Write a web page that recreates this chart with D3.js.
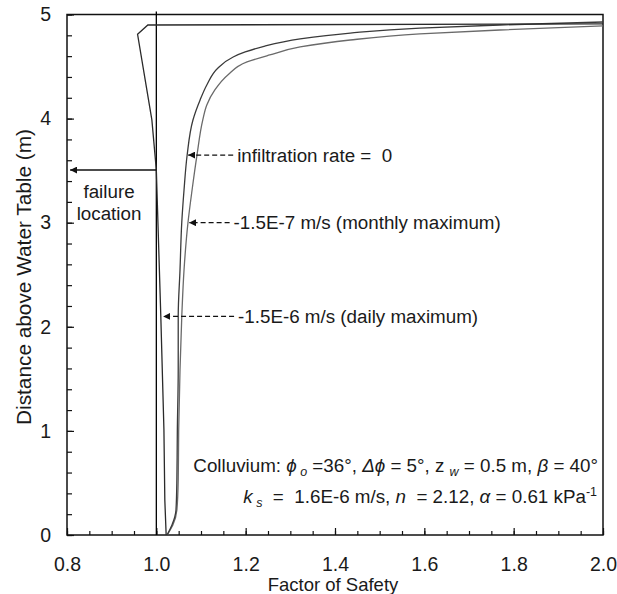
<!DOCTYPE html>
<html>
<head>
<meta charset="utf-8">
<script src="https://cdn.jsdelivr.net/npm/d3@7"></script>
<style>
  body { margin: 0; background: #fff; }
  svg text { font-family: "Liberation Sans", Arial, sans-serif; fill: #1a1a1a; white-space: pre; }
</style>
</head>
<body>
<svg id="chart" width="617" height="594"></svg>
<script>
// --- data (factor of safety vs. height above water table, m) ---
const fsTicks = [0.8, 1.0, 1.2, 1.4, 1.6, 1.8, 2.0];
const heightTicks = [0, 1, 2, 3, 4, 5];

// infiltration rate = 0
const noInfilFS = [1.024, 1.035, 1.044, 1.046, 1.047, 1.049, 1.049, 1.053, 1.057, 1.062, 1.069, 1.082, 1.098, 1.113, 1.138, 1.172, 1.199, 1.243, 1.322, 1.434, 1.590, 1.769, 2.0];
const noInfilH  = [0, 0.096, 0.240, 0.528, 0.999, 1.585, 2.104, 2.546, 3.007, 3.314, 3.650, 3.987, 4.179, 4.323, 4.486, 4.592, 4.640, 4.697, 4.765, 4.822, 4.870, 4.899, 4.928];

// -1.5E-7 m/s (monthly maximum)
const monthlyFS = [1.024, 1.037, 1.046, 1.049, 1.050, 1.053, 1.057, 1.062, 1.071, 1.080, 1.091, 1.104, 1.113, 1.131, 1.160, 1.203, 1.254, 1.322, 1.434, 1.590, 1.769, 2.0];
const monthlyH  = [0, 0.096, 0.240, 0.528, 0.999, 1.585, 2.104, 2.546, 3.007, 3.314, 3.650, 3.987, 4.131, 4.275, 4.419, 4.544, 4.611, 4.688, 4.755, 4.813, 4.851, 4.890];

// -1.5E-6 m/s (daily maximum)
const dailyFS = [1.022, 1.019, 1.017, 1.010, 1.000, 0.990, 0.958, 0.981, 2.0];
const dailyH  = [0, 0.336, 1.009, 2.104, 3.506, 3.987, 4.810, 4.899, 4.909];

const refFS = 1.0;
const failureH = 3.506;

const annotations = [
  {label: "infiltration rate =  0", h: 3.65, tipFS: 1.069, textFS: 1.181},
  {label: "-1.5E-7 m/s (monthly maximum)", h: 3.0, tipFS: 1.071, textFS: 1.173},
  {label: "-1.5E-6 m/s (daily maximum)", h: 2.1, tipFS: 1.013, textFS: 1.183}
];

// --- layout ---
const svg = d3.select("#chart");
const plotL = 67, plotR = 603, plotT = 14.5, plotB = 535;

const x = d3.scaleLinear().domain([0.8, 2.0]).range([plotL, plotR]);
const y = d3.scaleLinear().domain([0, 5]).range([plotB, plotT]);

const defs = svg.append("defs");
defs.append("clipPath").attr("id", "plot-clip")
  .append("rect")
    .attr("x", plotL).attr("y", plotT)
    .attr("width", plotR - plotL).attr("height", plotB - plotT);

defs.append("marker")
    .attr("id", "head")
    .attr("viewBox", "0 0 10 10")
    .attr("refX", 10).attr("refY", 5)
    .attr("markerWidth", 7).attr("markerHeight", 7)
    .attr("markerUnits", "userSpaceOnUse")
    .attr("orient", "auto")
  .append("path")
    .attr("d", "M0,0 L10,5 L0,10 z")
    .attr("fill", "#111");

// minor ticks
const xMinor = d3.range(0.8, 2.0001, 0.05).map(v => +v.toFixed(2));
const yMinor = d3.range(0, 5.0001, 0.2).map(v => +v.toFixed(1));

svg.append("g")
    .attr("transform", `translate(0,${plotB})`)
    .call(d3.axisBottom(x).tickValues(xMinor).tickSize(-4).tickFormat(""))
    .call(g => g.select(".domain").remove());

svg.append("g")
    .attr("transform", `translate(0,${plotB})`)
    .call(d3.axisBottom(x).tickValues(fsTicks).tickSize(-7).tickPadding(22).tickFormat(d3.format(".1f")))
    .call(g => g.select(".domain").remove())
    .call(g => g.selectAll("text").attr("font-size", 19.5).attr("fill", "#1a1a1a"));

svg.append("g")
    .attr("transform", `translate(${plotL},0)`)
    .call(d3.axisLeft(y).tickValues(yMinor).tickSize(-5).tickFormat(""))
    .call(g => g.select(".domain").remove());

svg.append("g")
    .attr("transform", `translate(${plotL},0)`)
    .call(d3.axisLeft(y).tickValues(heightTicks).tickSize(-7).tickPadding(16).tickFormat(d3.format("d")))
    .call(g => g.select(".domain").remove())
    .call(g => g.selectAll("text").attr("font-size", 19.5).attr("fill", "#1a1a1a"));

svg.selectAll(".tick line").attr("stroke", "#111").attr("stroke-width", 1.2);

// frame
svg.append("rect")
    .attr("x", plotL).attr("y", plotT)
    .attr("width", plotR - plotL).attr("height", plotB - plotT)
    .attr("fill", "none").attr("stroke", "#111").attr("stroke-width", 1.5);

// FS = 1 reference line
svg.append("line")
    .attr("x1", x(refFS)).attr("x2", x(refFS))
    .attr("y1", y(5.03)).attr("y2", y(0))
    .attr("stroke", "#000").attr("stroke-width", 1.3);

// curves
const zip = (fs, h) => fs.map((v, i) => [v, h[i]]);
const smooth = d3.line().x(d => x(d[0])).y(d => y(d[1])).curve(d3.curveMonotoneY);
const straight = d3.line().x(d => x(d[0])).y(d => y(d[1]));

const curves = svg.append("g").attr("clip-path", "url(#plot-clip)").attr("fill", "none");
curves.append("path").attr("d", smooth(zip(monthlyFS, monthlyH).reverse()))
    .attr("stroke", "#6a6a6a").attr("stroke-width", 1.3);
curves.append("path").attr("d", smooth(zip(noInfilFS, noInfilH).reverse()))
    .attr("stroke", "#3a3a3a").attr("stroke-width", 1.3);
curves.append("path").attr("d", straight(zip(dailyFS, dailyH)))
    .attr("stroke", "#2a2a2a").attr("stroke-width", 1.3);

// annotation arrows and labels
const notes = svg.append("g");
annotations.forEach(a => {
  notes.append("line")
      .attr("x1", x(a.textFS) - 4).attr("x2", x(a.tipFS) + 1)
      .attr("y1", y(a.h)).attr("y2", y(a.h))
      .attr("stroke", "#111").attr("stroke-width", 1.2)
      .attr("stroke-dasharray", "5,3")
      .attr("marker-end", "url(#head)");
  notes.append("text")
      .attr("x", x(a.textFS)).attr("y", y(a.h))
      .attr("dy", "0.35em")
      .attr("font-size", 18.8)
      .text(a.label);
});

// failure location arrow
notes.append("line")
    .attr("x1", x(refFS)).attr("x2", x(0.807))
    .attr("y1", y(failureH)).attr("y2", y(failureH))
    .attr("stroke", "#111").attr("stroke-width", 1.5)
    .attr("marker-end", "url(#head)");
notes.append("text")
    .attr("x", 109).attr("y", y(failureH) + 28)
    .attr("text-anchor", "middle").attr("font-size", 18.8)
    .text("failure");
notes.append("text")
    .attr("x", 109).attr("y", y(failureH) + 50)
    .attr("text-anchor", "middle").attr("font-size", 18.8)
    .text("location");

// soil parameters
const p1 = svg.append("text").attr("x", 598).attr("y", 472)
    .attr("text-anchor", "end").attr("font-size", 18.8);
p1.append("tspan").text("Colluvium: ");
p1.append("tspan").attr("font-style", "italic").text("\u03d5");
p1.append("tspan").attr("font-style", "italic").attr("font-size", 12.5).attr("dy", 4).text(" o");
p1.append("tspan").attr("dy", -4).text(" =36\u00b0, ");
p1.append("tspan").attr("font-style", "italic").text("\u0394\u03d5");
p1.append("tspan").text(" = 5\u00b0, z ");
p1.append("tspan").attr("font-style", "italic").attr("font-size", 12.5).attr("dy", 4).text("w");
p1.append("tspan").attr("dy", -4).text(" = 0.5 m, ");
p1.append("tspan").attr("font-style", "italic").text("\u03b2");
p1.append("tspan").text(" = 40\u00b0");

const p2 = svg.append("text").attr("x", 597).attr("y", 503)
    .attr("text-anchor", "end").attr("font-size", 18.8);
p2.append("tspan").attr("font-style", "italic").text("k");
p2.append("tspan").attr("font-style", "italic").attr("font-size", 12.5).attr("dy", 4).text(" s");
p2.append("tspan").attr("dy", -4).text("  =  1.6E-6 m/s, ");
p2.append("tspan").attr("font-style", "italic").text("n");
p2.append("tspan").text("  = 2.12, ");
p2.append("tspan").attr("font-style", "italic").text("\u03b1");
p2.append("tspan").text(" = 0.61 kPa");
p2.append("tspan").attr("font-size", 12.5).attr("dy", -7).text("-1");

// axis titles
svg.append("text")
    .attr("x", 333).attr("y", 591)
    .attr("text-anchor", "middle").attr("font-size", 18.5)
    .text("Factor of Safety");

svg.append("text")
    .attr("transform", `translate(24,277) rotate(-90)`)
    .attr("text-anchor", "middle").attr("dy", "0.35em").attr("font-size", 20.8)
    .text("Distance above Water Table (m)");
</script>
</body>
</html>
